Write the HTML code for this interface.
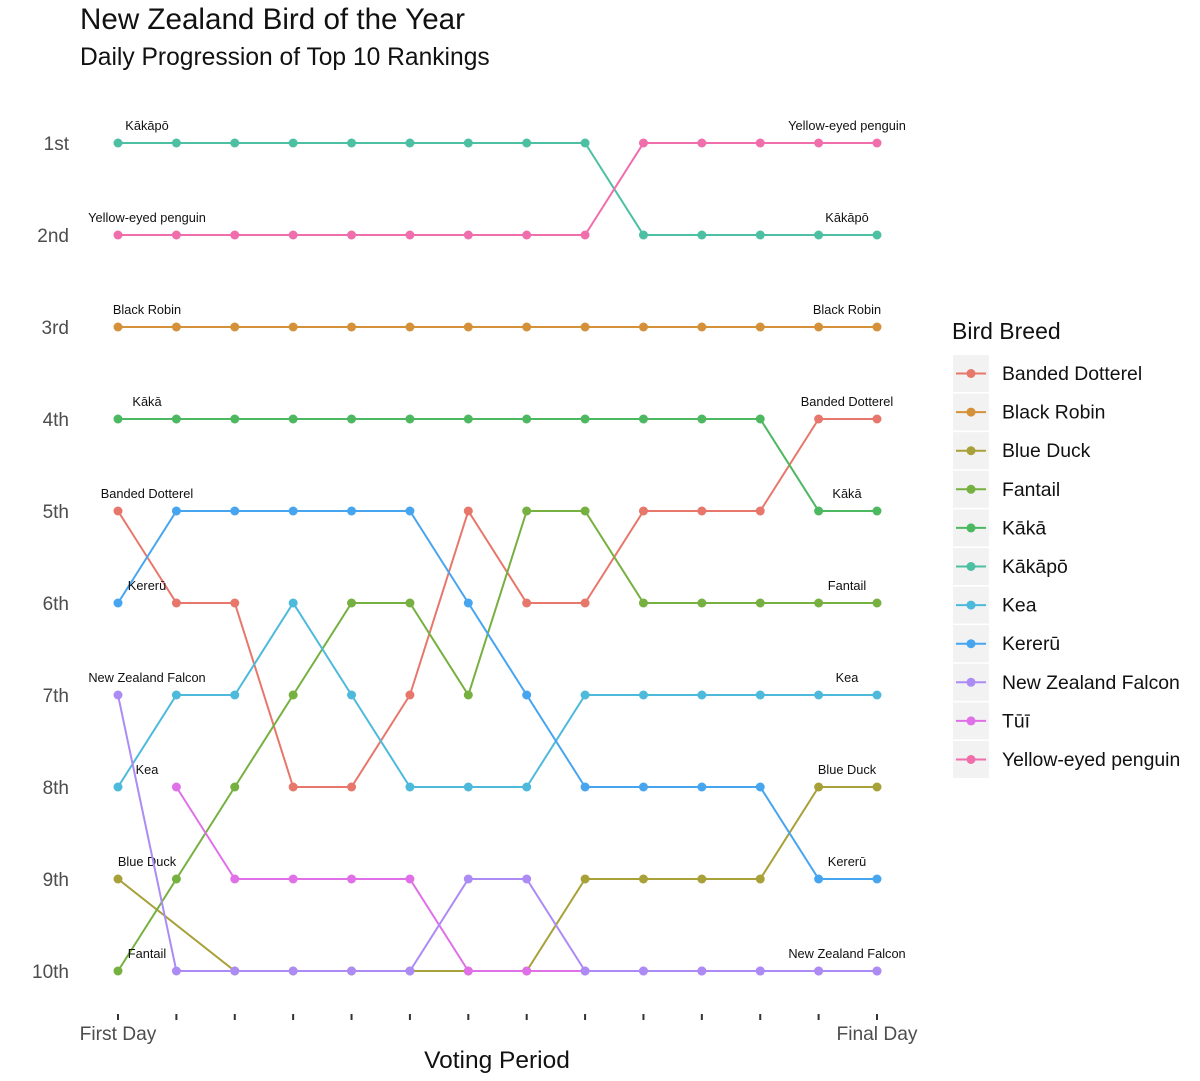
<!DOCTYPE html>
<html><head><meta charset="utf-8"><style>
body{margin:0;background:#fff;font-family:"Liberation Sans",sans-serif;}
svg text{font-family:"Liberation Sans",sans-serif;}
</style></head><body>
<svg id="chart" width="1200" height="1076" xmlns="http://www.w3.org/2000/svg">
<text x="80" y="29" font-size="29.6" fill="#111">New Zealand Bird of the Year</text>
<text x="80" y="65" font-size="24.6" fill="#111">Daily Progression of Top 10 Rankings</text>
<g id="plot"></g>
<text x="497" y="1068" font-size="24.5" text-anchor="middle" fill="#111">Voting Period</text>
<g id="legend"></g>
</svg>
<script>
const birds = ["Banded Dotterel","Black Robin","Blue Duck","Fantail","Kākā","Kākāpō","Kea","Kererū","New Zealand Falcon","Tūī","Yellow-eyed penguin"];
const colors = ["#E8776B","#D4913A","#A8A038","#76B040","#4CB860","#4DBFA3","#4DBADB","#47A5F0","#AC8BF5","#E070E8","#F06EAC"];
const rankBandedDotterel = [5,6,6,8,8,7,5,6,6,5,5,5,4,4];
const rankBlackRobin = [3,3,3,3,3,3,3,3,3,3,3,3,3,3];
const rankBlueDuck = [9,null,10,10,10,10,10,10,9,9,9,9,8,8];
const rankFantail = [10,9,8,7,6,6,7,5,5,6,6,6,6,6];
const rankKaka = [4,4,4,4,4,4,4,4,4,4,4,4,5,5];
const rankKakapo = [1,1,1,1,1,1,1,1,1,2,2,2,2,2];
const rankKea = [8,7,7,6,7,8,8,8,7,7,7,7,7,7];
const rankKereru = [6,5,5,5,5,5,6,7,8,8,8,8,9,9];
const rankFalcon = [7,10,10,10,10,10,9,9,10,10,10,10,10,10];
const rankTui = [null,8,9,9,9,9,10,10,10,10,10,10,10,10];
const rankPenguin = [2,2,2,2,2,2,2,2,2,1,1,1,1,1];
const series = [rankBandedDotterel,rankBlackRobin,rankBlueDuck,rankFantail,rankKaka,rankKakapo,rankKea,rankKereru,rankFalcon,rankTui,rankPenguin];
const drawOrder = [0,1,2,3,4,5,6,7,9,8,10];
const rankLabels = ["1st","2nd","3rd","4th","5th","6th","7th","8th","9th","10th"];
const nDays = 14;
const xAt = d => 118 + d*(877-118)/(nDays-1);
const yAt = r => 143 + (r-1)*(971-143)/9;
const NS="http://www.w3.org/2000/svg";
const plot=document.getElementById('plot');
function mk(tag,attrs,parent){const e=document.createElementNS(NS,tag);for(const k in attrs)e.setAttribute(k,attrs[k]);(parent||plot).appendChild(e);return e;}
rankLabels.forEach((l,i)=>{
  const t=mk('text',{x:69,y:yAt(i+1)+7,'font-size':19,'text-anchor':'end',fill:'#4D4D4D'});
  
  
  t.textContent=l;
});
for(let d=0;d<nDays;d++){
  const tk=mk('line',{x1:xAt(d),x2:xAt(d),y1:1014,y2:1020,stroke:'#333','stroke-width':2});
  
  
}
[["First Day",0],["Final Day",nDays-1]].forEach(([s,d])=>{
  const t=mk('text',{x:xAt(d),y:1040,'font-size':19.2,'text-anchor':'middle',fill:'#4D4D4D'});
  
  
  t.textContent=s;
});
drawOrder.forEach(si=>{
  const arr=series[si];
  const g=mk('g',{});
  
  
  let pts=[];
  arr.forEach((r,d)=>{ if(r!=null) pts.push(xAt(d)+','+yAt(r)); });
  mk('polyline',{points:pts.join(' '),fill:'none',stroke:colors[si],'stroke-width':2},g);
  arr.forEach((r,d)=>{ if(r==null)return;
    const c=mk('circle',{cx:xAt(d),cy:yAt(r),r:4.5,fill:colors[si]},g);
    
    
  });
  if(arr[0]!=null){
    const t=mk('text',{x:147,y:yAt(arr[0])-13,'font-size':12.8,'text-anchor':'middle',fill:'#111'},g);
    
    
    t.textContent=birds[si];
  }
  const lastR=arr[nDays-1];
  const endTop = series.filter(a=>a[nDays-1]===lastR);
  if(endTop[0]===arr && lastR!=null){
    const t=mk('text',{x:847,y:yAt(lastR)-13,'font-size':12.8,'text-anchor':'middle',fill:'#111'},g);
    
    
    t.textContent=birds[si];
  }
});
const lg=document.getElementById('legend');
const lt=mk('text',{x:952,y:339,'font-size':23,fill:'#111'},lg);


lt.textContent="Bird Breed";
birds.forEach((b,i)=>{
  const y=355+i*38.6;
  const g=mk('g',{},lg);
  
  
  mk('rect',{x:953,y:y,width:36,height:37,fill:'#F2F2F2'},g);
  mk('line',{x1:956,x2:986,y1:y+18.5,y2:y+18.5,stroke:colors[i],'stroke-width':2},g);
  mk('circle',{cx:971,cy:y+18.5,r:4.5,fill:colors[i]},g);
  const t=mk('text',{x:1002,y:y+25,'font-size':19.4,fill:'#111'},g);
  t.textContent=b;
});
</script>
</body></html>
